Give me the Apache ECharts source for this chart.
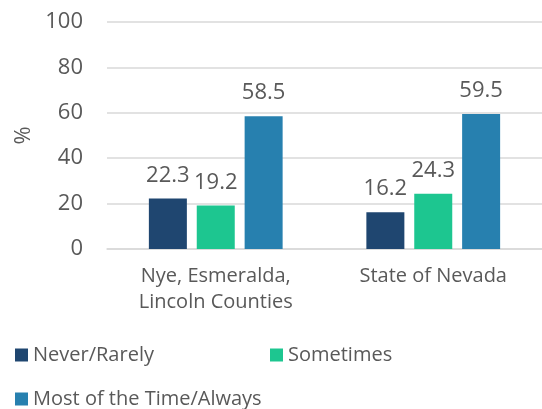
<!DOCTYPE html>
<html>
<head>
<meta charset="utf-8">
<script src="https://cdn.jsdelivr.net/npm/echarts@6/dist/echarts.min.js"></script>
<style>
  html, body { margin: 0; padding: 0; background: #fff; }
  #chart { width: 542px; height: 409px; }
</style>
</head>
<body>
<div id="chart"></div>
<script>
// data
const categories = ['Nye, Esmeralda,\nLincoln Counties', 'State of Nevada'];
const seriesNames = ['Never/Rarely', 'Sometimes', 'Most of the Time/Always'];
const neverRarely = [22.3, 16.2];
const sometimes = [19.2, 24.3];
const mostAlways = [58.5, 59.5];
const yTicks = [0, 20, 40, 60, 80, 100];

const colors = ['#1f4670', '#1dc690', '#2780af'];
const font = '"Open Sans", sans-serif';
const textColor = '#595959';

const chart = echarts.init(document.getElementById('chart'));

function makeSeries(name, values, i) {
    return {
        name: name,
        type: 'bar',
        data: values,
        barWidth: 38,
        barGap: '26%',
        itemStyle: { color: colors[i] },
        label: {
            show: true,
            position: 'top',
            distance: 12,
            color: textColor,
            fontFamily: font,
            fontSize: 22,
            formatter: p => p.value.toFixed(1)
        }
    };
}

chart.setOption({
    animation: false,
    grid: { left: 107, right: 0, top: 22, bottom: 160 },
    legend: {
        data: seriesNames,
        left: 15,
        top: 343,
        width: 520,
        padding: 0,
        itemWidth: 13,
        itemHeight: 13,
        itemGap: 20,
        icon: 'rect',
        textStyle: { color: textColor, fontFamily: font, fontSize: 20, width: 217, lineHeight: 24 }
    },
    xAxis: {
        type: 'category',
        data: categories,
        axisLine: { lineStyle: { color: '#d9d9d9', width: 1.5 } },
        axisTick: { show: false },
        axisLabel: { color: textColor, fontFamily: font, fontSize: 20, lineHeight: 26, margin: 14 }
    },
    yAxis: {
        type: 'value',
        min: yTicks[0],
        max: yTicks[yTicks.length - 1],
        interval: 20,
        name: '%',
        nameLocation: 'middle',
        nameGap: 64,
        nameRotate: 90,
        nameTextStyle: { color: textColor, fontFamily: font, fontSize: 22 },
        axisLine: { show: false },
        axisTick: { show: false },
        axisLabel: { color: textColor, fontFamily: font, fontSize: 22, margin: 24 },
        splitLine: { lineStyle: { color: '#d9d9d9', width: 1.5 } }
    },
    series: [
        makeSeries(seriesNames[0], neverRarely, 0),
        makeSeries(seriesNames[1], sometimes, 1),
        makeSeries(seriesNames[2], mostAlways, 2)
    ]
});
</script>
</body>
</html>
